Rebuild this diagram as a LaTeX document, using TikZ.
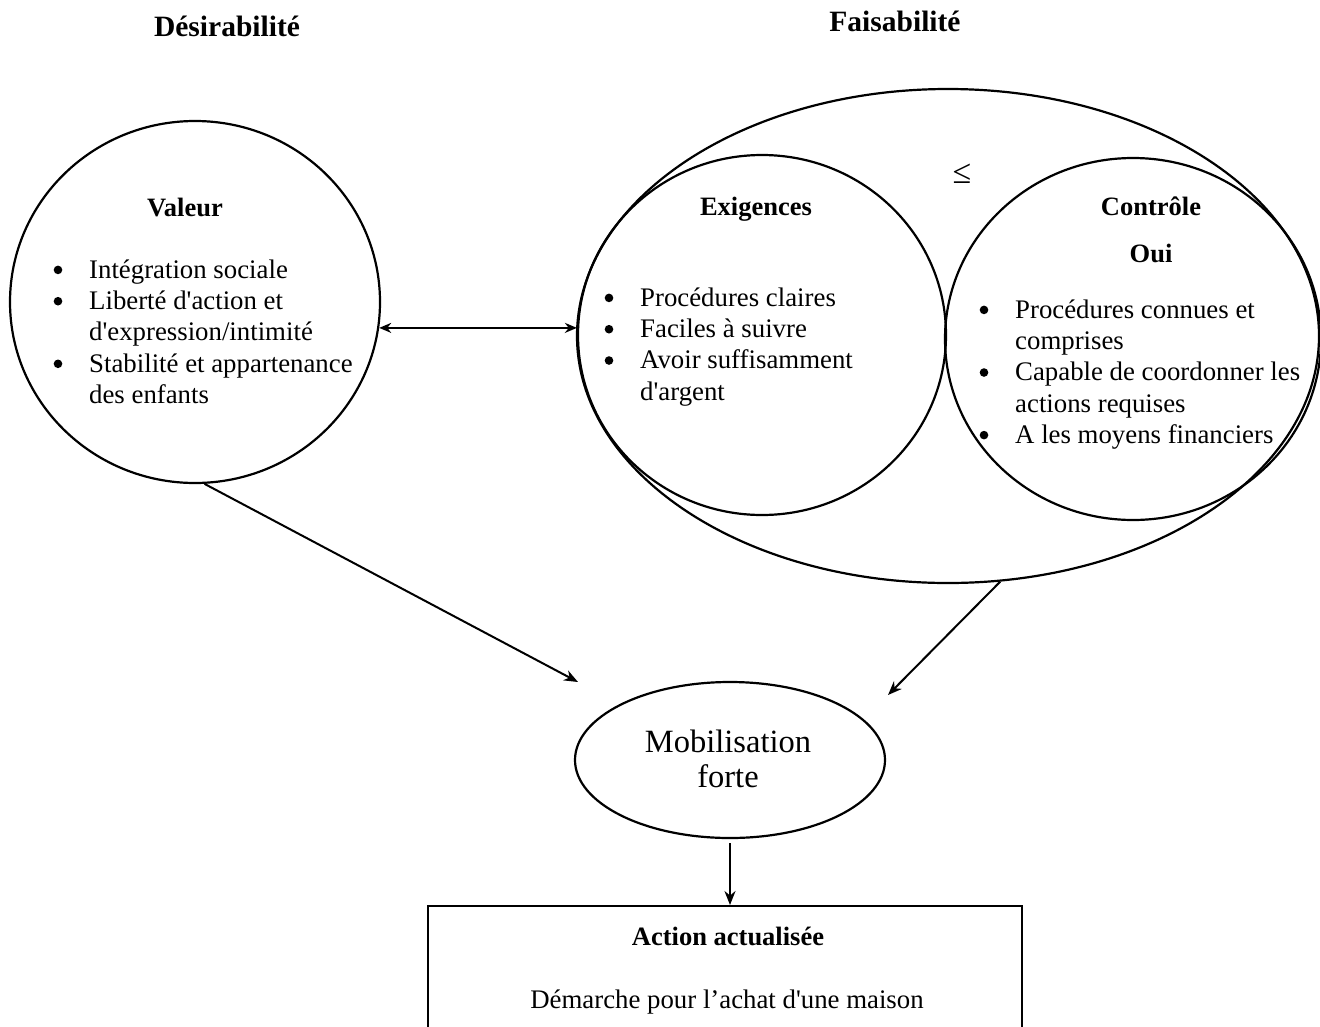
\documentclass[tikz,border=0pt]{standalone}
\usepackage{fontspec}
\setmainfont{Liberation Serif}[Ligatures=TeXOff]
\usetikzlibrary{arrows.meta,shapes.geometric}

% filled list dot in a fixed-width slot
\newcommand\bul{\makebox[35.5pt][l]{\raisebox{4pt}{\tikz\fill (0pt,0pt) circle[radius=4.3pt];}}}

\begin{document}
\begin{tikzpicture}[x=1pt,y=-1pt,
  oval/.style={draw,ellipse,line width=2.2pt,inner sep=0pt},
  conn/.style={line width=2pt,-{Stealth[length=14pt,width=11pt]}},
  dconn/.style={line width=2pt,{Stealth[length=12pt,width=10pt]}-{Stealth[length=12pt,width=10pt]}},
  txt/.style={inner sep=0pt,font=\fontsize{26.8}{31.3}\selectfont},
  hd/.style={inner sep=0pt,font=\fontsize{26.5}{31.3}\selectfont\bfseries},
  title/.style={inner sep=0pt,font=\fontsize{29.5}{34}\selectfont\bfseries},
  blist/.style={inner sep=0pt,anchor=north west,font=\fontsize{26.8}{31.3}\selectfont}]
\useasboundingbox (0,0) rectangle (1320,1026);
\clip (0,0) rectangle (1320,1026);

% column titles
\node[title,anchor=base] (tdes) at (227,36) {Désirabilité};
\node[title,anchor=base] (tfai) at (895,31) {Faisabilité};

% desirability: value circle
\node[oval,minimum width=370pt,minimum height=362pt] (valeur) at (195,302) {};
\node[hd,anchor=base] (hval) at (185,216) {Valeur};
\node[blist] (lval) at (53.5,256.1) {\begin{tabular}{@{}l@{}l@{}}
\bul & Intégration sociale\\
\bul & Liberté d'action et\\
 & d'expression/intimité\\
\bul & Stabilité et appartenance\\
 & des enfants
\end{tabular}};

% feasibility: outer ellipse with requirements and control circles
\node[oval,minimum width=742pt,minimum height=494pt] (faisab) at (948,336) {};
\node[oval,minimum width=368pt,minimum height=360pt] (exig) at (762,335) {};
\node[oval,minimum width=376pt,minimum height=362pt] (ctrl) at (1133,339) {};
\node[inner sep=0pt,anchor=base,font=\fontsize{34}{34}\selectfont] (leq) at (962,183) {≤};

\node[hd,anchor=base] (hexi) at (756,215) {Exigences};
\node[blist] (lexi) at (604.5,284.1) {\begin{tabular}{@{}l@{}l@{}}
\bul & Procédures claires\\
\bul & Faciles à suivre\\
\bul & Avoir suffisamment\\
 & d'argent
\end{tabular}};

\node[hd,anchor=base] (hctl) at (1151,215) {Contrôle};
\node[hd,anchor=base] (houi) at (1151,262) {Oui};
\node[blist] (lctl) at (979.5,296.1) {\begin{tabular}{@{}l@{}l@{}}
\bul & Procédures connues et\\
 & comprises\\
\bul & Capable de coordonner les\\
 & actions requises\\
\bul & A les moyens financiers
\end{tabular}};

% mobilisation
\node[oval,minimum width=310pt,minimum height=156pt] (mobil) at (730,760) {};
\node[inner sep=0pt,anchor=base,font=\fontsize{32.5}{36}\selectfont] (mob1) at (728,752) {Mobilisation};
\node[inner sep=0pt,anchor=base,font=\fontsize{32.5}{36}\selectfont] (mob2) at (728,787) {forte};

% resulting action
\node[draw,line width=2pt,anchor=north,minimum width=594pt,minimum height=200pt] (action) at (725,905) {};
\node[hd,anchor=base] (hact) at (728,945) {Action actualisée};
\node[txt,anchor=base] (tact) at (727,1008) {Démarche pour l’achat d'une maison};

% connectors
\coordinate (inL) at (578,682);
\coordinate (inR) at (888,695);
\draw[dconn] (valeur.-8) -- (valeur.-8 -| exig.west);
\draw[conn] (valeur.-87) -- (inL);
\draw[conn] (faisab.-78) -- (inR);
\draw[conn,shorten <=4pt] (mobil.south) -- (mobil.south |- action.north);
\end{tikzpicture}
\end{document}
